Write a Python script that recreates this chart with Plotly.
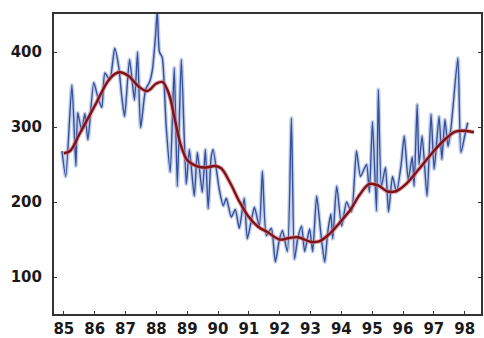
import plotly.graph_objects as go

# Blue monthly series (year as decimal, value)
blue_t = [84.94, 85.06, 85.26, 85.39, 85.45, 85.58, 85.68, 85.78, 85.97, 86.10, 86.23, 86.33,
          86.49, 86.65, 86.78, 86.88, 86.97, 87.13, 87.29, 87.39, 87.49, 87.65, 87.78, 87.87,
          87.97, 88.03, 88.10, 88.19, 88.32, 88.45, 88.58, 88.68, 88.81, 88.97, 89.07, 89.23,
          89.33, 89.49, 89.59, 89.68, 89.78, 89.84, 90.04, 90.17, 90.27, 90.43, 90.56, 90.69,
          90.85, 90.95, 91.08, 91.18, 91.34, 91.44, 91.57, 91.73, 91.86, 91.99, 92.09, 92.25,
          92.38, 92.48, 92.58, 92.71, 92.81, 92.97, 93.07, 93.20, 93.33, 93.46, 93.56, 93.66,
          93.72, 93.85, 94.01, 94.17, 94.33, 94.49, 94.62, 94.75, 94.82, 94.91, 95.01, 95.14,
          95.20, 95.30, 95.43, 95.53, 95.66, 95.79, 95.94, 96.04, 96.17, 96.30, 96.36, 96.46,
          96.52, 96.62, 96.78, 96.91, 97.01, 97.17, 97.26, 97.36, 97.46, 97.56, 97.78, 97.88,
          98.01, 98.10]
blue_v = [268, 234, 356, 248, 319, 295, 318, 283, 359, 340, 326, 372,
          363, 405, 380, 340, 314, 390, 336, 400, 299, 350, 360, 376,
          420, 455, 400, 393, 300, 240, 379, 221, 390, 224, 270, 208,
          266, 213, 270, 191, 260, 270, 217, 195, 205, 180, 190, 165,
          205, 151, 175, 193, 168, 241, 155, 165, 120, 150, 162, 134,
          312, 124, 150, 168, 134, 164, 134, 208, 160, 120, 160, 184,
          151, 221, 168, 200, 187, 268, 234, 245, 250, 213, 307, 188,
          350, 221, 246, 187, 234, 213, 250, 288, 230, 260, 221, 330,
          250, 288, 208, 317, 244, 314, 257, 310, 274, 300, 392, 266,
          290, 306]

# Red smoothed trend
red_t = [85.0, 85.2, 85.5, 86.0, 86.5, 86.8, 87.1, 87.4, 87.7, 88.0, 88.2, 88.4, 88.6, 88.8,
         89.0, 89.3, 89.6, 89.9, 90.1, 90.4, 90.7, 91.0, 91.3, 91.6, 92.0, 92.3, 92.6, 93.0,
         93.3, 93.6, 94.0, 94.3, 94.6, 94.9, 95.2, 95.5, 95.8, 96.1, 96.5, 97.0, 97.4, 97.7,
         98.0, 98.3]
red_v = [265, 268, 290, 328, 365, 373, 368, 355, 348, 358, 360, 345, 310, 275,
         256, 248, 246, 248, 245, 225, 200, 180, 167, 160, 150, 152, 153, 147,
         148, 157, 175, 190, 210, 224, 222, 214, 215, 224, 243, 268, 285, 294,
         295, 293]

x_ticks = list(range(85, 99))
x_labels = [str(v) for v in x_ticks]
y_ticks = [100, 200, 300, 400]

fig = go.Figure()
fig.add_trace(go.Scatter(x=blue_t, y=blue_v, mode="lines",
                         line=dict(color="rgba(150,170,215,0.55)", width=4, shape="spline", smoothing=0.6),
                         hoverinfo="skip"))
fig.add_trace(go.Scatter(x=blue_t, y=blue_v, mode="lines",
                         line=dict(color="#34509a", width=1.4, shape="spline", smoothing=0.6)))
fig.add_trace(go.Scatter(x=red_t, y=red_v, mode="lines",
                         line=dict(color="rgba(220,120,130,0.6)", width=4.5, shape="spline"),
                         hoverinfo="skip"))
fig.add_trace(go.Scatter(x=red_t, y=red_v, mode="lines",
                         line=dict(color="#7a1418", width=2.4, shape="spline")))

fig.update_layout(
    width=484, height=338,
    margin=dict(l=54, r=3, t=14, b=24),
    paper_bgcolor="white", plot_bgcolor="white",
    showlegend=False,
    font=dict(family="DejaVu Sans, Liberation Sans, sans-serif", size=15, color="#1a1a1a", weight="bold"),
)
fig.update_xaxes(range=[84.68, 98.53], tickvals=x_ticks, ticktext=x_labels, automargin=False,
                 showgrid=False, zeroline=False, showline=True, linecolor="#333", linewidth=2,
                 mirror=True, ticks="inside", ticklen=3, tickcolor="#333", ticklabelstandoff=0)
fig.update_yaxes(range=[50.7, 450.7], tickvals=y_ticks, automargin=False,
                 showgrid=False, zeroline=False, showline=True, linecolor="#333", linewidth=2,
                 mirror="ticks", ticks="inside", ticklen=3, tickcolor="#333", ticklabelstandoff=7)

fig.write_html("out.html")
